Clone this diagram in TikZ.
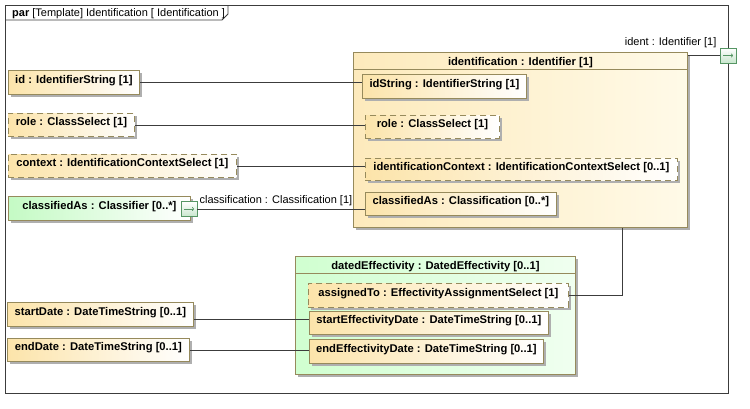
\documentclass[tikz,border=0pt]{standalone}
\usepackage{fontspec}
\setmainfont{Liberation Sans}
\usetikzlibrary{positioning,shadows,arrows.meta,calc}
\definecolor{partline}{RGB}{150,138,92}
\definecolor{partfill}{RGB}{252,228,170}
\definecolor{blockfill}{RGB}{253,234,188}
\definecolor{blockfillb}{RGB}{255,250,232}
\definecolor{greenfill}{RGB}{196,250,196}
\definecolor{greenblock}{RGB}{208,255,208}
\definecolor{greenblockb}{RGB}{240,255,240}
\definecolor{portline}{RGB}{86,150,100}
\definecolor{portfill}{RGB}{200,230,205}
\definecolor{wire}{RGB}{60,60,60}
\definecolor{shadowgray}{RGB}{175,175,175}

\tikzset{
	part/.style={draw=partline, line width=0.8pt, left color=partfill, right color=white, anchor=north west,
		minimum height=24pt, text height=8pt, text depth=6pt, inner sep=3pt,
		font=\fontsize{11.2}{13}\selectfont\bfseries,
		drop shadow={shadow xshift=3pt, shadow yshift=-3pt, fill=shadowgray, opacity=1}},
	dpart/.style={part, dash pattern=on 6pt off 4pt},
	gpart/.style={part, left color=greenfill},
	block/.style={part, inner sep=0pt, text height=13pt},
	port/.style={draw=portline, line width=0.8pt, top color=white, bottom color=portfill,
		minimum width=16pt, minimum height=15pt, inner sep=0pt},
	wire/.style={draw=wire, line width=0.8pt},
	lbl/.style={font=\fontsize{11}{13}\selectfont, inner sep=0pt},
}

\begin{document}
\begin{tikzpicture}[x=1pt, y=-1pt]
	\useasboundingbox (0,0) rectangle (750,408);
	\draw[wire] (5,5) rectangle (728,393);
	\draw[wire] (5,20) -- (222,20) -- (228,14) -- (228,5);
	\node[lbl, anchor=base west] (title) at (12,16) {\textbf{par} [Template] Identification [ Identification ]};

	\node[block, minimum width=334pt, text depth=162pt, left color=blockfill, right color=blockfillb] (ident) at (353,52) {identification : Identifier [1]};
	\draw[partline, line width=0.8pt] ([yshift=-17pt]ident.north west) -- ([yshift=-17pt]ident.north east);
	\node[part, minimum width=164pt] (idstr) at (362,74) {idString : IdentifierString [1]};
	\node[dpart, minimum width=134pt, minimum height=23pt] (rolein) at (365,115) {role : ClassSelect [1]};
	\node[dpart, minimum width=312pt, minimum height=22pt] (ctxin) at (365,158) {identificationContext : IdentificationContextSelect [0..1]};
	\node[part, minimum width=191pt, minimum height=23pt] (clsin) at (365,192) {classifiedAs : Classification [0..*]};

	\node[block, minimum width=280pt, text depth=105pt, left color=greenblock, right color=greenblockb] (dated) at (295,256) {datedEffectivity : DatedEffectivity [0..1]};
	\draw[partline, line width=0.8pt] ([yshift=-17pt]dated.north west) -- ([yshift=-17pt]dated.north east);
	\node[dpart, minimum width=260pt] (asg) at (308,283) {assignedTo : EffectivityAssignmentSelect [1]};
	\node[part, minimum width=239pt, minimum height=23pt] (sed) at (309,311) {startEffectivityDate : DateTimeString [0..1]};
	\node[part, minimum width=234pt] (eed) at (309,339) {endEffectivityDate : DateTimeString [0..1]};

	\node[part, minimum width=131pt] (id) at (8,70) {id : IdentifierString [1]};
	\node[dpart, minimum width=126pt, minimum height=23pt] (role) at (8,113) {role : ClassSelect [1]};
	\node[dpart, minimum width=228pt, minimum height=23pt] (ctx) at (8,154) {context : IdentificationContextSelect [1]};
	\node[gpart, minimum width=182pt] (cls) at (8,196) {classifiedAs : Classifier [0..*]};
	\node[part, minimum width=186pt] (start) at (7,302) {startDate : DateTimeString [0..1]};
	\node[part, minimum width=182pt, minimum height=23pt] (end) at (7,338) {endDate : DateTimeString [0..1]};

	\node[port] (clsport) at (189,209) {};
	\node[lbl, anchor=base west] (clslbl) at ([xshift=2pt,yshift=-2pt]clsport.north east) {classification : Classification [1]};
	\node[port] (identport) at (728,55.5) {};
	\node[lbl, anchor=base east] (identlbl) at ([xshift=-3pt,yshift=2pt]identport.north west) {ident : Identifier [1]};
	\foreach \p in {identport,clsport}
		\draw[portline, line width=0.7pt, -{To[length=2pt,width=4pt]}] ([xshift=-5pt]\p.center) -- ([xshift=5pt]\p.center);

	\draw[wire] (identport.west -| ident.east) -- (identport.west);
	\draw[wire] (id.east) -- (id.east -| idstr.west);
	\draw[wire] (role.east) -- (role.east -| rolein.west);
	\draw[wire] (ctx.east) -- (ctx.east -| ctxin.west);
	\draw[wire] (clsport.east) -- (clsport.east -| clsin.west);
	\draw[wire] ($(start.east)+(0pt,-5pt)$) -- ($(start.east -| sed.west)+(0pt,-5pt)$);
	\draw[wire] (end.east) -- (end.east -| eed.west);
	\draw[wire] (asg.east) -| ([xshift=102pt]ident.south);
\end{tikzpicture}
\end{document}
